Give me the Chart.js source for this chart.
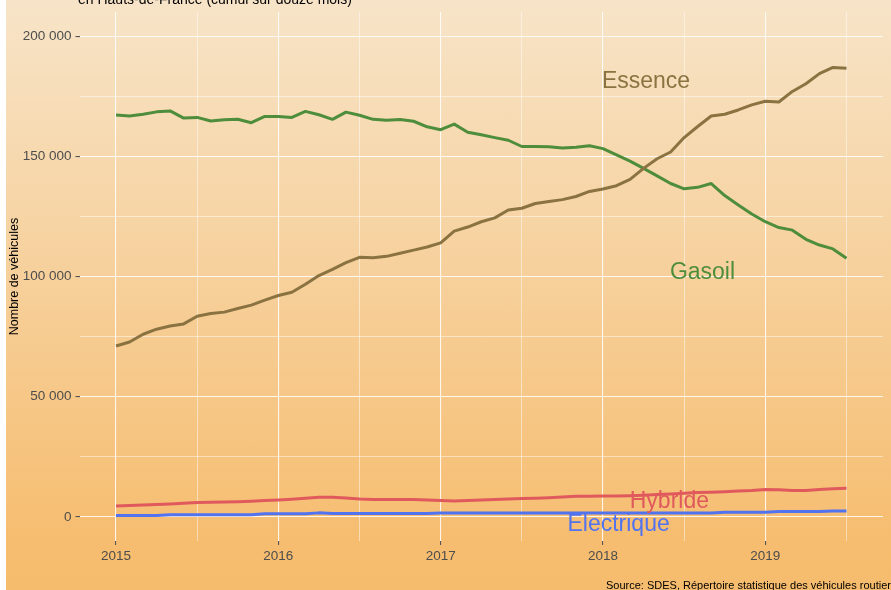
<!DOCTYPE html>
<html><head><meta charset="utf-8">
<script src="https://cdn.jsdelivr.net/npm/chart.js@4"></script>
<style>
html,body{margin:0;padding:0;width:891px;height:590px;overflow:hidden;background:#fff;}
#bg{position:absolute;left:6px;top:0;width:885px;height:590px;background:linear-gradient(to bottom,#f7e4c8 0px,#f6bd70 540px,#f6bc6e 590px);}
canvas{position:absolute;left:0;top:0;}
</style></head>
<body><div id="bg"></div><canvas id="c" width="891" height="590"></canvas>
<script>
const months = ['2015-01','2015-02','2015-03','2015-04','2015-05','2015-06','2015-07','2015-08','2015-09','2015-10','2015-11','2015-12',
'2016-01','2016-02','2016-03','2016-04','2016-05','2016-06','2016-07','2016-08','2016-09','2016-10','2016-11','2016-12',
'2017-01','2017-02','2017-03','2017-04','2017-05','2017-06','2017-07','2017-08','2017-09','2017-10','2017-11','2017-12',
'2018-01','2018-02','2018-03','2018-04','2018-05','2018-06','2018-07','2018-08','2018-09','2018-10','2018-11','2018-12',
'2019-01','2019-02','2019-03','2019-04','2019-05','2019-06','2019-07'];
const essence = [71100,72800,76000,78100,79400,80300,83500,84600,85200,86700,88100,90200,
92100,93500,96800,100400,103000,105800,108000,107800,108400,109700,111000,112300,
114000,118900,120600,122800,124400,127700,128400,130400,131200,132000,133300,135400,
136400,137800,140400,145000,149000,151800,157800,162400,166800,167500,169300,171400,
172900,172600,177000,180200,184400,187000,186600];
const gasoil = [167200,166800,167500,168500,168900,165900,166200,164700,165200,165400,164000,166600,
166600,166200,168700,167300,165400,168400,167100,165400,165000,165300,164600,162300,
161100,163400,160000,159000,157800,156700,154100,154100,154000,153500,153800,154400,
153200,150600,148000,145000,141900,138700,136500,137100,138700,133700,129800,126000,
122800,120400,119300,115500,113100,111500,107600];
const hybride = [4600,4800,5000,5200,5400,5700,6000,6100,6200,6300,6500,6800,
7100,7400,7800,8200,8200,7900,7500,7300,7300,7300,7300,7100,
6800,6600,6800,7100,7300,7500,7700,7800,8000,8300,8600,8600,
8700,8700,8800,9000,9300,9600,9900,10200,10300,10500,10800,11000,
11400,11300,11000,11000,11400,11700,11900];
const electrique = [600,600,600,600,900,900,900,900,900,900,900,1300,
1300,1300,1300,1700,1400,1400,1400,1400,1400,1400,1400,1400,
1600,1600,1600,1600,1600,1600,1600,1600,1600,1600,1600,1600,
1600,1600,1600,1600,1600,1600,1600,1600,1600,2000,2000,2000,
2000,2300,2300,2300,2300,2500,2500];
const xTickValues = [2015,2015.5,2016,2016.5,2017,2017.5,2018,2018.5,2019,2019.5];
const yTickValues = [0,25000,50000,75000,100000,125000,150000,175000,200000];
const seriesNames = ['Essence','Gasoil','Hybride','Electrique'];
const colors = {Essence:'#8a7341',Gasoil:'#4e8d3b',Hybride:'#e05a5d',Electrique:'#5173ef'};
// direct labels (data coordinates)
const labelPos = {Essence:[2018.265,178500],Gasoil:[2018.613,99000],Hybride:[2018.409,3600],Electrique:[2018.096,-5800]};

const toYear = s => { const p = s.split('-').map(Number); return p[0] + (p[1]-1)/12; };
const pts = arr => arr.map((v,i)=>({x: toYear(months[i]), y: v}));
const seriesData = {Essence:essence,Gasoil:gasoil,Hybride:hybride,Electrique:electrique};
const fmt = v => String(v).replace(/\B(?=(\d{3})+(?!\d))/g,' ');
const FONT = 'Liberation Sans, Arial, sans-serif';

const textPlugin = {
  id:'texts',
  afterDatasetsDraw(chart){
    const ctx = chart.ctx, xs = chart.scales.x, ys = chart.scales.y;
    ctx.save();
    ctx.font = '23px ' + FONT;
    ctx.textAlign = 'center';
    ctx.textBaseline = 'alphabetic';
    seriesNames.forEach(n=>{
      ctx.fillStyle = colors[n];
      ctx.fillText(n, xs.getPixelForValue(labelPos[n][0]), ys.getPixelForValue(labelPos[n][1]));
    });
    ctx.restore();
  },
  afterDraw(chart){
    const ctx = chart.ctx;
    ctx.save();
    ctx.fillStyle = '#000';
    ctx.textAlign = 'left';
    ctx.textBaseline = 'alphabetic';
    ctx.font = '14px ' + FONT;
    ctx.fillText('en Hauts-de-France (cumul sur douze mois)', 78, 4);
    ctx.font = '11px ' + FONT;
    ctx.fillText('Source: SDES, Répertoire statistique des véhicules routiers', 606, 589);
    ctx.restore();
  }
};

const isMajorY = v => v % 50000 === 0;
const isMajorX = v => Number.isInteger(v);

new Chart(document.getElementById('c').getContext('2d'), {
  type:'line',
  data:{datasets: seriesNames.map(n=>({label:n, data:pts(seriesData[n]), borderColor:colors[n], backgroundColor:colors[n], fill:false}))},
  options:{
    responsive:false, animation:false, devicePixelRatio:1,
    layout:{padding:{top:11,right:8,left:0,bottom:0}},
    plugins:{legend:{display:false},tooltip:{enabled:false},title:{display:false}},
    elements:{point:{radius:0},line:{tension:0,borderWidth:3,borderJoinStyle:'round',borderCapStyle:'butt'}},
    scales:{
      x:{type:'linear',min:2014.775,max:2019.725,
        afterBuildTicks:s=>{s.ticks = xTickValues.map(v=>({value:v}));},
        afterFit:s=>{s.height = 49;},
        border:{display:false},
        grid:{drawTicks:true,tickLength:4,
          color:c=> c.tick && isMajorX(c.tick.value) ? 'rgba(255,255,255,0.85)' : 'rgba(255,255,255,0.8)',
          lineWidth:c=> c.tick && isMajorX(c.tick.value) ? 1.1 : 0.6,
          tickColor:c=> c.tick && isMajorX(c.tick.value) ? '#555' : 'rgba(0,0,0,0)'},
        ticks:{autoSkip:false,maxRotation:0,padding:3,color:'#4d4d4d',font:{family:FONT,size:13.5},
          callback:v=> isMajorX(v) ? String(v) : ''}
      },
      y:{type:'linear',min:-10000,max:210000,
        afterBuildTicks:s=>{s.ticks = yTickValues.map(v=>({value:v}));},
        afterFit:s=>{s.width = 79.5;},
        border:{display:false},
        grid:{drawTicks:true,tickLength:4,
          color:c=> c.tick && isMajorY(c.tick.value) ? 'rgba(255,255,255,0.85)' : 'rgba(255,255,255,0.8)',
          lineWidth:c=> c.tick && isMajorY(c.tick.value) ? 1.1 : 0.6,
          tickColor:c=> c.tick && isMajorY(c.tick.value) ? '#555' : 'rgba(0,0,0,0)'},
        ticks:{autoSkip:false,padding:4,color:'#4d4d4d',font:{family:FONT,size:13.5},
          callback:v=> isMajorY(v) ? fmt(v) : ''},
        title:{display:true,text:'Nombre de véhicules',color:'#000',font:{family:FONT,size:12.5},padding:{top:7,bottom:0}}
      }
    }
  },
  plugins:[textPlugin]
});
</script>
</body></html>
